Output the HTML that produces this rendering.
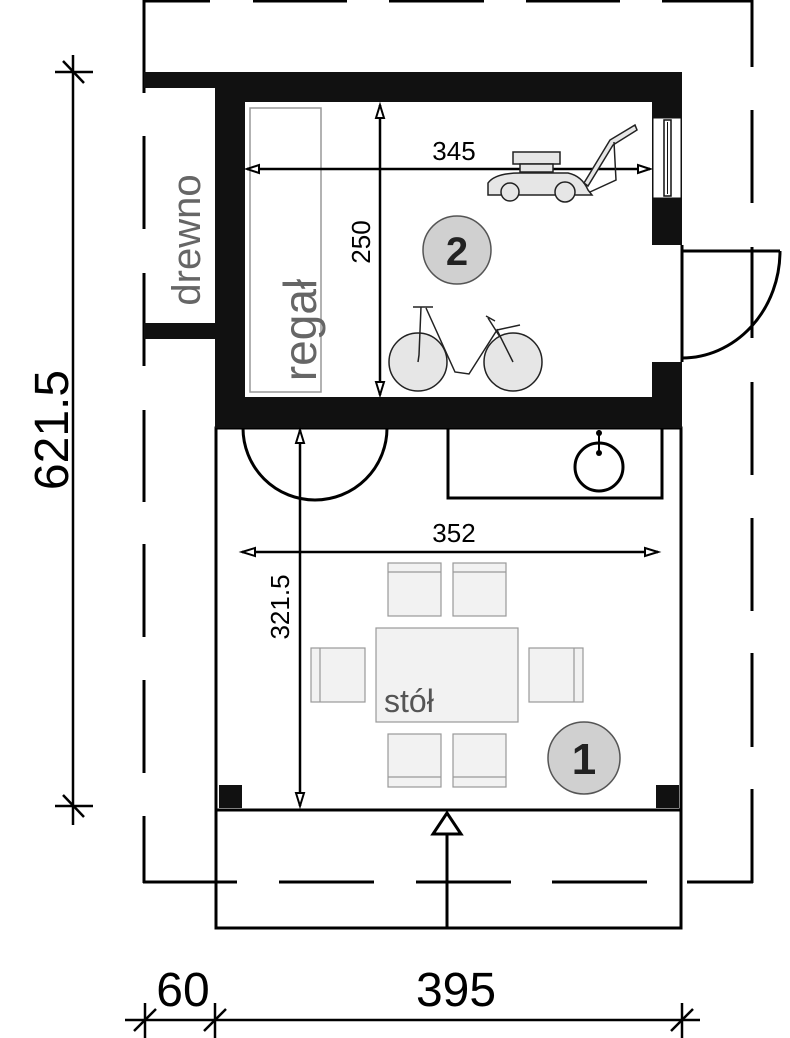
<!DOCTYPE html>
<html><head><meta charset="utf-8"><style>
html,body{margin:0;padding:0;background:#fff}
svg{display:block}
text{font-family:"Liberation Sans","DejaVu Sans",sans-serif}
</style></head><body>
<svg width="790" height="1038" viewBox="0 0 790 1038" xmlns="http://www.w3.org/2000/svg">
<g stroke="#000" stroke-width="3" fill="none" stroke-linecap="butt">
<line x1="144" y1="1" x2="210" y2="1"/><line x1="253" y1="1" x2="347" y2="1"/><line x1="389" y1="1" x2="484" y2="1"/><line x1="526" y1="1" x2="620" y2="1"/><line x1="662" y1="1" x2="753" y2="1"/>
<line x1="144" y1="0" x2="144" y2="93"/><line x1="144" y1="136" x2="144" y2="229"/><line x1="144" y1="273" x2="144" y2="366"/><line x1="144" y1="410" x2="144" y2="502"/><line x1="144" y1="544" x2="144" y2="637"/><line x1="144" y1="680" x2="144" y2="773"/><line x1="144" y1="816" x2="144" y2="883"/>
<line x1="752" y1="0" x2="752" y2="67"/><line x1="752" y1="110" x2="752" y2="203"/><line x1="752" y1="247" x2="752" y2="338"/><line x1="752" y1="382" x2="752" y2="475"/><line x1="752" y1="518" x2="752" y2="611"/><line x1="752" y1="653" x2="752" y2="747"/><line x1="752" y1="789" x2="752" y2="883"/>
<line x1="143" y1="882" x2="237" y2="882"/><line x1="279" y1="882" x2="374" y2="882"/><line x1="416" y1="882" x2="511" y2="882"/><line x1="552" y1="882" x2="647" y2="882"/><line x1="687" y1="882" x2="753" y2="882"/>
<rect x="216" y="428" width="465" height="382"/>
<rect x="216" y="810" width="465" height="118"/>
</g>
<g fill="#111">
<path fill-rule="evenodd" d="M215 72H682V245H652V362H682V428H215Z M245 102V397H652V362H652V245H652V102Z"/>
<rect x="144" y="72" width="72" height="16"/>
<rect x="144" y="323" width="72" height="16"/>
<rect x="219" y="785" width="23" height="23"/>
<rect x="656" y="785" width="23" height="23"/>
</g>
<rect x="653" y="118" width="28" height="80" fill="#fff" stroke="#111" stroke-width="1"/>
<rect x="664" y="120" width="7" height="76" fill="#fff" stroke="#111" stroke-width="1.5"/>
<line x1="667.5" y1="122" x2="667.5" y2="194" stroke="#111" stroke-width="1"/>
<g stroke="#000" stroke-width="3" fill="none">
<line x1="682" y1="245" x2="682" y2="362"/>
<line x1="682" y1="251" x2="780" y2="251"/>
<path d="M780 251A98 107 0 0 1 682 358"/>
<path d="M243 428A72 72 0 0 0 387 428"/>
<path d="M448 428V498H662V428"/>
<circle cx="599" cy="467" r="24"/>
<line x1="599" y1="430" x2="599" y2="453" stroke-width="2"/>
</g>
<circle cx="599" cy="433" r="3"/><circle cx="599" cy="453" r="3"/>
<line x1="447" y1="834" x2="447" y2="928" stroke="#000" stroke-width="3"/>
<polygon points="447,813 433,834 461,834" fill="#fff" stroke="#000" stroke-width="3"/>
<rect x="250" y="108" width="71" height="284" fill="#fff" stroke="#999" stroke-width="1.5"/>
<text transform="translate(316,330) rotate(-90)" text-anchor="middle" font-size="46" fill="#666">regał</text>
<text transform="translate(200,240) rotate(-90)" text-anchor="middle" font-size="40" fill="#666">drewno</text>
<g stroke="#000" stroke-width="2.5" fill="none">
<line x1="247" y1="169" x2="650" y2="169"/>
<line x1="380" y1="105" x2="380" y2="395"/>
<line x1="300" y1="430" x2="300" y2="806"/>
<line x1="242" y1="552" x2="658" y2="552"/>
</g>
<g fill="#fff" stroke="#000" stroke-width="2">
<polygon points="247,169 259,165 259,173"/><polygon points="650,169 638,165 638,173"/>
<polygon points="380,105 376,118 384,118"/><polygon points="380,395 376,382 384,382"/>
<polygon points="300,430 296,443 304,443"/><polygon points="300,806 296,793 304,793"/>
<polygon points="242,552 255,548 255,556"/><polygon points="658,552 645,548 645,556"/>
</g>
<text x="454" y="160" text-anchor="middle" font-size="26">345</text>
<text transform="translate(370,242) rotate(-90)" text-anchor="middle" font-size="26">250</text>
<text x="454" y="542" text-anchor="middle" font-size="26">352</text>
<text transform="translate(289,607) rotate(-90)" text-anchor="middle" font-size="26">321.5</text>
<circle cx="457" cy="250" r="34" fill="#d0d0d0" stroke="#555" stroke-width="1.5"/>
<text x="457" y="265" text-anchor="middle" font-size="40" font-weight="bold" fill="#222">2</text>
<circle cx="584" cy="758" r="36" fill="#d0d0d0" stroke="#555" stroke-width="1.5"/>
<text x="584" y="774" text-anchor="middle" font-size="44" fill="#222" font-weight="bold">1</text>
<g stroke="#222" stroke-width="1.5" fill="#e6e6e6">
<rect x="513" y="152" width="47" height="12"/>
<rect x="520" y="164" width="33" height="8"/>
<path d="M488 195V183Q495 173 520 173H568Q582 176 588 190L592 195Z"/>
<circle cx="510" cy="192" r="9"/><circle cx="565" cy="192" r="10"/>
<path d="M584 183L610 140L635 125L637 130L613 145L588 186Z"/>
<path d="M614 142L616 180L590 192" fill="none"/>
</g>
<g stroke="#222" stroke-width="1.5">
<circle cx="418" cy="362" r="29" fill="#e6e6e6"/>
<circle cx="513" cy="362" r="29" fill="#e6e6e6"/>
<path d="M421 307L419 355L418 362M413 307H433M426 308L455 372L469 374L497 330L513 362M488 318L500 337M497 330L520 325M486 316L495 321" fill="none"/>
</g>
<g fill="#f2f2f2" stroke="#999" stroke-width="1.2">
<rect x="388" y="563" width="53" height="53"/><line x1="388" y1="572" x2="441" y2="572"/>
<rect x="453" y="563" width="53" height="53"/><line x1="453" y1="572" x2="506" y2="572"/>
<rect x="388" y="734" width="53" height="53"/><line x1="388" y1="777" x2="441" y2="777"/>
<rect x="453" y="734" width="53" height="53"/><line x1="453" y1="777" x2="506" y2="777"/>
<rect x="311" y="648" width="54" height="54"/><line x1="320" y1="648" x2="320" y2="702"/>
<rect x="529" y="648" width="54" height="54"/><line x1="574" y1="648" x2="574" y2="702"/>
<rect x="376" y="628" width="142" height="94"/>
</g>
<text x="384" y="712" font-size="32" fill="#555">stół</text>
<g stroke="#000" stroke-width="2.5">
<line x1="73" y1="55" x2="73" y2="825"/>
<line x1="55" y1="72" x2="93" y2="72"/><line x1="63" y1="61" x2="84" y2="83"/>
<line x1="55" y1="806" x2="93" y2="806"/><line x1="63" y1="795" x2="84" y2="817"/>
<line x1="125" y1="1020" x2="700" y2="1020"/>
<line x1="145" y1="1003" x2="145" y2="1038"/><line x1="134" y1="1031" x2="156" y2="1009"/>
<line x1="215" y1="1003" x2="215" y2="1038"/><line x1="204" y1="1031" x2="226" y2="1009"/>
<line x1="682" y1="1003" x2="682" y2="1038"/><line x1="671" y1="1031" x2="693" y2="1009"/>
</g>
<text transform="translate(68,430) rotate(-90)" text-anchor="middle" font-size="48">621.5</text>
<text x="183" y="1006" text-anchor="middle" font-size="48">60</text>
<text x="456" y="1006" text-anchor="middle" font-size="48">395</text>
</svg>
</body></html>
